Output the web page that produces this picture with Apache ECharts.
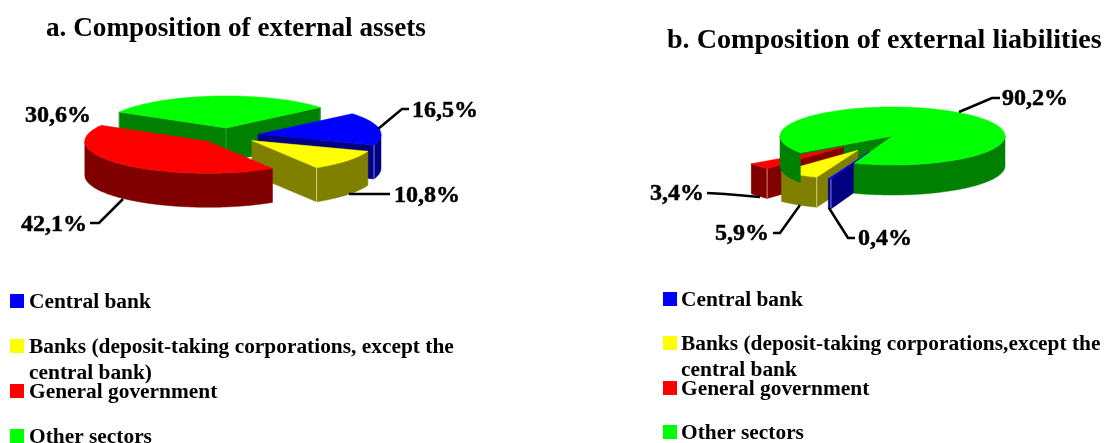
<!DOCTYPE html>
<html><head><meta charset="utf-8">
<style>html,body{margin:0;padding:0;background:#fff}#c{width:1104px;height:443px}</style>
<script src="https://cdn.jsdelivr.net/npm/echarts@6/dist/echarts.min.js"></script>
</head><body><div id="c"></div>
<script>
// ---- data ----
var categories = ['Central bank', 'Banks (deposit-taking corporations, except the central bank)', 'General government', 'Other sectors'];
var assetsValues = [16.5, 10.8, 42.1, 30.6];
var liabilitiesValues = [0.4, 5.9, 3.4, 90.2];
var assetsLabels = ['16,5%', '10,8%', '42,1%', '30,6%'];
var liabilitiesLabels = ['0,4%', '5,9%', '3,4%', '90,2%'];
var titleA = 'a. Composition of external assets';
var titleB = 'b. Composition of external liabilities';
var legendLinesA = ['Central bank', 'Banks (deposit-taking corporations, except the\ncentral bank)', 'General government', 'Other sectors'];
var legendLinesB = ['Central bank', 'Banks (deposit-taking corporations,except the\ncentral bank', 'General government', 'Other sectors'];

// ---- style / layout ----
var topColors = ['#0000ff', '#ffff00', '#ff0000', '#00ff00'];
var sideColors = ['#000080', '#808000', '#800000', '#008000'];
var seamColors = ['#8080ff', '#d0d080', '#e08080', '#30a030'];
var FONT = '"Liberation Serif","Times New Roman",serif';

var panelA = {
  cx: 228.6, cy: 135.7, rx: 123, ry: 32, depth: 34, start: 50, explode: [0.243, 0.243, 0.243, 0.243],
  values: assetsValues, labels: assetsLabels,
  z: { 3: { cut: 1, wall: 2, top: 3 }, 0: { cut: 4, wall: 5, top: 6 }, 1: { cut: 7, wall: 8, top: 9 }, 2: { cut: 10, wall: 11, top: 12 } },
  leaders: [
    [[378, 129], [402, 109], [409, 109]],
    [[349, 194], [390, 194]],
    [[123, 199], [99, 223], [90, 223]],
    null
  ],
  labelPos: [[412, 111, 'left'], [394, 196, 'left'], [87, 225, 'right'], [91, 116, 'right']]
};
var panelB = {
  cx: 892.5, cy: 136, rx: 112.5, ry: 29, depth: 30, start: 200, explode: [0.58, 0.58, 0.58, 0],
  values: liabilitiesValues, labels: liabilitiesLabels,
  z: { 3: { cut: 1, wall: 8, top: 9 }, 2: { cut: 2, wall: 3, top: 4 }, 1: { cut: 5, wall: 5.5, top: 6 }, 0: { cut: 7, wall: 10, top: 11 } },
  leaders: [
    [[829, 208], [848, 238], [855, 238]],
    [[800, 205], [780, 233], [773, 233]],
    [[760, 197], [725, 194], [707, 193]],
    [[959, 112], [992, 98], [1000, 98]]
  ],
  labelPos: [[858, 239, 'left'], [769, 234, 'right'], [704, 194, 'right'], [1002, 99, 'left']]
};

function makeRender(p) {
  var total = p.values.reduce(function (a, b) { return a + b; }, 0);
  var rad = Math.PI / 180;
  return function (params, api) {
    var i = params.dataIndex;
    var v = api.value(0);
    var a0 = p.start, j;
    for (j = 0; j < i; j++) a0 += p.values[j] / total * 360;
    var a1 = a0 + v / total * 360, mid = (a0 + a1) / 2;
    var ox = p.cx + p.explode[i] * p.rx * Math.sin(mid * rad);
    var oy = p.cy - p.explode[i] * p.ry * Math.cos(mid * rad);
    function pt(t, d) { return [ox + p.rx * Math.sin(t * rad), oy - p.ry * Math.cos(t * rad) + (d || 0)]; }
    var z = p.z[i], kids = [];
    function poly(points, fill, z2) {
      kids.push({ type: 'polygon', z2: z2, shape: { points: points }, style: { fill: fill, stroke: fill, lineWidth: 0.5 } });
    }
    function seam(x, y) {
      if (!p.explode[i]) return;
      kids.push({ type: 'line', z2: z.wall + 0.5, shape: { x1: x, y1: y, x2: x, y2: y + p.depth }, style: { stroke: seamColors[i], lineWidth: 1 } });
    }
    function cut(t) {
      var o = pt(t);
      poly([[ox, oy], o, [o[0], o[1] + p.depth], [ox, oy + p.depth]], sideColors[i], z.cut);
    }
    var endVis = Math.cos((a1 + 90) * rad) < 0, startVis = Math.cos((a0 - 90) * rad) < 0;
    if (startVis) cut(a0);
    if (endVis) cut(a1);
    // outer wall: the front half of the rim
    [0, 360, -360].forEach(function (s) {
      var lo = Math.max(a0, 90 + s), hi = Math.min(a1, 270 + s), t;
      if (hi <= lo) return;
      var up = [], dn = [];
      for (t = lo; t < hi; t += 1) { up.push(pt(t)); dn.unshift(pt(t, p.depth)); }
      up.push(pt(hi)); dn.unshift(pt(hi, p.depth));
      poly(up.concat(dn), sideColors[i], z.wall);
    });
    // seams where faces meet
    var sp;
    if (startVis) { sp = pt(a0); seam(sp[0], sp[1]); }
    if (endVis) { sp = pt(a1); seam(sp[0], sp[1]); }
    if (startVis && endVis) seam(ox, oy);
    // top face
    var top = [[ox, oy]], t;
    for (t = a0; t < a1; t += 1) top.push(pt(t));
    top.push(pt(a1));
    poly(top, topColors[i], z.top);
    // leader and label
    if (p.leaders[i]) {
      kids.push({ type: 'polyline', z2: 50, shape: { points: p.leaders[i] }, style: { fill: 'none', stroke: '#000', lineWidth: 2.5 } });
    }
    var lp = p.labelPos[i];
    kids.push({ type: 'text', z2: 51, style: { text: p.labels[i], x: lp[0], y: lp[1], textAlign: lp[2], textVerticalAlign: 'middle', font: 'bold 24px ' + FONT, fill: '#000', stroke: '#000', lineWidth: 0.5 } });
    return { type: 'group', children: kids };
  };
}
function seriesFor(p) {
  return {
    type: 'custom', coordinateSystem: 'none', silent: true, animation: false,
    renderItem: makeRender(p),
    data: p.values.map(function (v, i) { return { name: categories[i], value: [v] }; })
  };
}
function legendGraphic(lines, mx, tx, ys) {
  var out = [];
  lines.forEach(function (s, i) {
    out.push({ type: 'rect', left: mx, top: ys[i] - 7, shape: { width: 14, height: 14 }, style: { fill: topColors[i] }, silent: true });
    out.push({ type: 'text', left: tx, top: ys[i] - 12, silent: true, style: { text: s, font: 'bold 21.4px ' + FONT, fill: '#000', lineHeight: 26 } });
  });
  return out;
}
var chart = echarts.init(document.getElementById('c'), null, { renderer: 'canvas' });
chart.setOption({
  animation: false,
  backgroundColor: '#fff',
  title: [
    { text: titleA, left: 46, top: 15, padding: 0, textStyle: { fontFamily: FONT, fontWeight: 'bold', fontSize: 27.2, color: '#000' } },
    { text: titleB, left: 667, top: 27, padding: 0, textStyle: { fontFamily: FONT, fontWeight: 'bold', fontSize: 28.1, color: '#000' } }
  ],
  graphic: legendGraphic(legendLinesA, 10, 29, [301, 346, 391, 436]).concat(legendGraphic(legendLinesB, 663, 681, [299, 343, 388, 432])),
  series: [seriesFor(panelA), seriesFor(panelB)]
});
</script></body></html>
